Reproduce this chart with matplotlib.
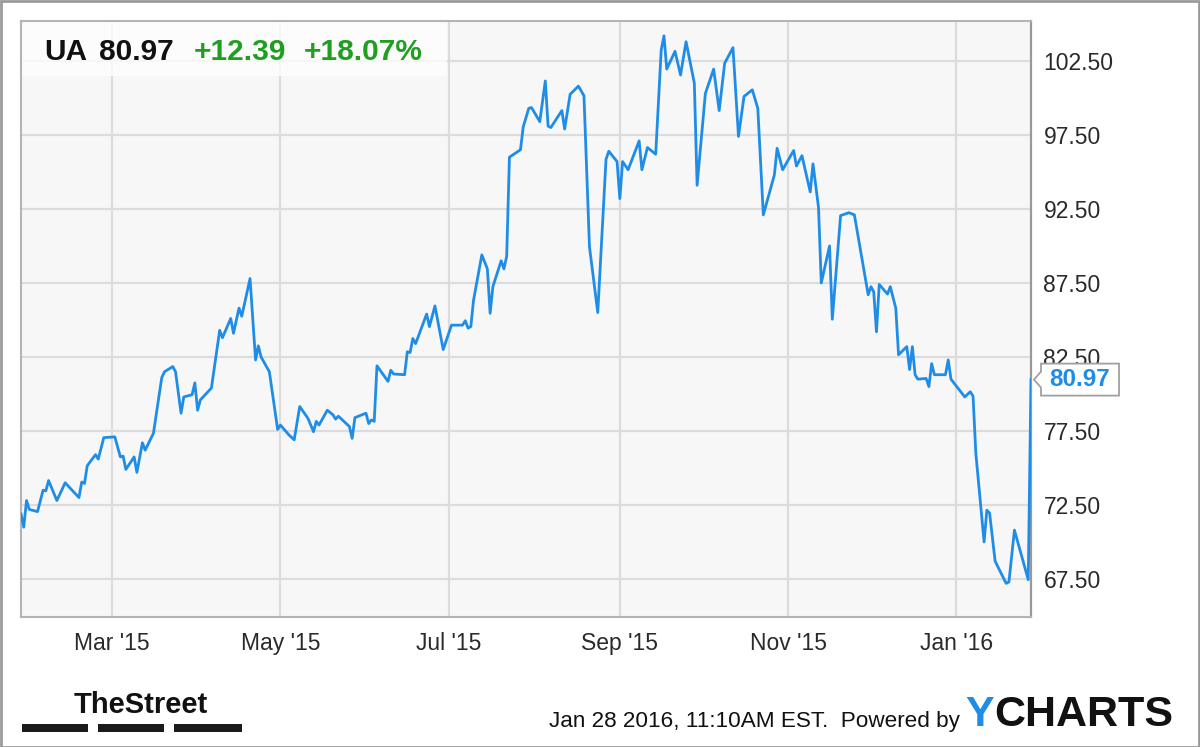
import numpy as np
import pandas as pd
import matplotlib
matplotlib.use("Agg")
import matplotlib.pyplot as plt
from matplotlib.patches import Rectangle, Polygon

plt.rcParams["font.family"] = ["Liberation Sans", "DejaVu Sans"]

# UA daily close (turning points only)
dates = [
    "2015-01-27", "2015-01-28", "2015-01-29", "2015-01-30", "2015-02-02", "2015-02-04",
    "2015-02-05", "2015-02-06", "2015-02-09", "2015-02-12", "2015-02-17", "2015-02-18",
    "2015-02-19", "2015-02-20", "2015-02-23", "2015-02-24", "2015-02-26", "2015-03-02",
    "2015-03-04", "2015-03-05", "2015-03-06", "2015-03-09", "2015-03-10", "2015-03-12",
    "2015-03-13", "2015-03-16", "2015-03-19", "2015-03-20", "2015-03-23", "2015-03-24",
    "2015-03-26", "2015-03-27", "2015-03-30", "2015-03-31", "2015-04-01", "2015-04-02",
    "2015-04-06", "2015-04-09", "2015-04-10", "2015-04-13", "2015-04-14", "2015-04-16",
    "2015-04-17", "2015-04-20", "2015-04-22", "2015-04-23", "2015-04-24", "2015-04-27",
    "2015-04-30", "2015-05-01", "2015-05-04", "2015-05-06", "2015-05-08", "2015-05-11",
    "2015-05-13", "2015-05-14", "2015-05-15", "2015-05-18", "2015-05-20", "2015-05-21",
    "2015-05-22", "2015-05-26", "2015-05-27", "2015-05-28", "2015-06-01", "2015-06-02",
    "2015-06-03", "2015-06-04", "2015-06-05", "2015-06-09", "2015-06-10", "2015-06-11",
    "2015-06-15", "2015-06-16", "2015-06-17", "2015-06-18", "2015-06-19", "2015-06-23",
    "2015-06-24", "2015-06-26", "2015-06-29", "2015-07-02", "2015-07-06", "2015-07-07",
    "2015-07-08", "2015-07-09", "2015-07-10", "2015-07-13", "2015-07-15", "2015-07-16",
    "2015-07-17", "2015-07-20", "2015-07-21", "2015-07-22", "2015-07-23", "2015-07-27",
    "2015-07-28", "2015-07-30", "2015-07-31", "2015-08-03", "2015-08-05", "2015-08-06",
    "2015-08-07", "2015-08-11", "2015-08-12", "2015-08-14", "2015-08-17", "2015-08-19",
    "2015-08-21", "2015-08-24", "2015-08-27", "2015-08-28", "2015-08-31", "2015-09-01",
    "2015-09-02", "2015-09-04", "2015-09-08", "2015-09-09", "2015-09-11", "2015-09-14",
    "2015-09-16", "2015-09-17", "2015-09-18", "2015-09-21", "2015-09-23", "2015-09-25",
    "2015-09-28", "2015-09-29", "2015-10-02", "2015-10-05", "2015-10-07", "2015-10-09",
    "2015-10-12", "2015-10-14", "2015-10-16", "2015-10-19", "2015-10-21", "2015-10-23",
    "2015-10-27", "2015-10-28", "2015-10-30", "2015-11-03", "2015-11-04", "2015-11-06",
    "2015-11-09", "2015-11-10", "2015-11-12", "2015-11-13", "2015-11-16", "2015-11-17",
    "2015-11-20", "2015-11-23", "2015-11-25", "2015-11-30", "2015-12-01", "2015-12-02",
    "2015-12-03", "2015-12-04", "2015-12-07", "2015-12-08", "2015-12-10", "2015-12-11",
    "2015-12-14", "2015-12-15", "2015-12-16", "2015-12-17", "2015-12-18", "2015-12-21",
    "2015-12-22", "2015-12-23", "2015-12-24", "2015-12-28", "2015-12-29", "2015-12-30",
    "2016-01-04", "2016-01-06", "2016-01-07", "2016-01-08", "2016-01-11", "2016-01-12",
    "2016-01-13", "2016-01-15", "2016-01-19", "2016-01-20", "2016-01-22", "2016-01-27",
    "2016-01-28",
]
prices = [
    71.9, 71.0, 72.8, 72.2, 72.05, 73.5,
    73.45, 74.15, 72.8, 74.0, 73.0, 74.05,
    73.95, 75.15, 75.9, 75.6, 77.05, 77.1,
    75.75, 75.8, 74.9, 75.75, 74.7, 76.7,
    76.2, 77.35, 81.1, 81.5, 81.85, 81.5,
    78.7, 79.8, 79.95, 80.75, 78.9, 79.6,
    80.4, 84.3, 83.8, 85.1, 84.1, 85.8,
    85.25, 87.8, 82.3, 83.25, 82.5, 81.5,
    77.6, 77.9, 77.25, 76.9, 79.15, 78.35,
    77.45, 78.15, 77.9, 78.9, 78.6, 78.3,
    78.5, 77.8, 77.0, 78.4, 78.7, 78.0,
    78.25, 78.15, 81.9, 80.85, 81.6, 81.35,
    81.3, 82.85, 82.8, 83.75, 83.4, 85.4,
    84.55, 85.95, 83.0, 84.65, 84.65, 84.95,
    84.45, 84.55, 86.35, 89.4, 88.45, 85.45,
    87.25, 89.0, 88.45, 89.3, 96.0, 96.5,
    98.05, 99.3, 99.35, 98.4, 101.15, 98.1,
    98.0, 99.15, 97.9, 100.25, 100.8, 100.15,
    89.95, 85.5, 95.85, 96.4, 95.7, 93.2,
    95.7, 95.15, 97.1, 95.15, 96.65, 96.2,
    103.25, 104.2, 101.95, 103.15, 101.55, 103.8,
    101.0, 94.1, 100.3, 101.95, 99.15, 102.35,
    103.4, 97.4, 100.1, 100.55, 99.3, 92.1,
    94.8, 96.6, 95.15, 96.45, 95.4, 96.1,
    93.65, 95.55, 92.6, 87.5, 90.0, 85.05,
    92.05, 92.25, 92.1, 86.7, 87.25, 86.9,
    84.2, 87.4, 86.75, 87.25, 85.8, 82.65,
    83.2, 81.65, 83.2, 81.3, 81.0, 81.05,
    80.5, 82.05, 81.3, 81.3, 82.3, 81.0,
    79.8, 80.15, 79.85, 76.0, 70.0, 72.15,
    71.95, 68.7, 67.2, 67.3, 70.8, 67.45,
    80.97,
]
ticker = "UA"
last_price = "80.97"
change = "+12.39"
change_pct = "+18.07%"

yticks = [67.5, 72.5, 77.5, 82.5, 87.5, 92.5, 97.5, 102.5]
xtick_dates = ["2015-03-01", "2015-05-01", "2015-07-01", "2015-09-01", "2015-11-01", "2016-01-01"]
xtick_labels = ["Mar '15", "May '15", "Jul '15", "Sep '15", "Nov '15", "Jan '16"]

BLUE = "#1f8de8"
GREEN = "#1f9e1f"
GRID = "#dcdcdc"
W, H = 1200, 747

x = pd.to_datetime(dates)
fig = plt.figure(figsize=(12, 7.47), dpi=100)
fig.patch.set_facecolor("white")

ax = fig.add_axes([21 / W, 1 - 617 / H, 1010 / W, 596 / H])
ax.set_facecolor("#f7f7f7")
ax.plot(x, prices, color=BLUE, lw=2.0, zorder=3)
ax.set_xlim(x[0], x[-1])
ax.set_ylim(64.93, 105.2)

ax.yaxis.tick_right()
ax.set_yticks(yticks)
ax.set_yticklabels([f"{v:.2f}" for v in yticks])
ax.set_xticks(pd.to_datetime(xtick_dates))
ax.set_xticklabels(xtick_labels)
ax.tick_params(axis="y", length=0, pad=9, labelsize=16.5, labelcolor="#2a2a2a")
ax.tick_params(axis="x", length=0, pad=11, labelsize=16.5, labelcolor="#2a2a2a")
ax.set_axisbelow(True)
ax.grid(True, color=GRID, lw=1.6)
for s in ["left", "top", "bottom"]:
    ax.spines[s].set_color("#b4b4b4")
    ax.spines[s].set_linewidth(1.5)
ax.spines["right"].set_color("#999999")
ax.spines["right"].set_linewidth(1.6)

# header box with quote
ax.add_patch(Rectangle((22 / W, 1 - 76 / H), 425 / W, 54 / H, transform=fig.transFigure,
                       facecolor="white", alpha=0.75, edgecolor="none", zorder=1))
base = 1 - 60 / H
fig.text(44 / W, base, ticker, fontsize=21.5, fontweight="bold", color="#111111", va="baseline")
fig.text(99 / W, base, last_price, fontsize=21.5, fontweight="bold", color="#111111", va="baseline")
fig.text(194 / W, base, change, fontsize=21.5, fontweight="bold", color=GREEN, va="baseline")
fig.text(304 / W, base, change_pct, fontsize=21.5, fontweight="bold", color=GREEN, va="baseline")

# last-price tag on the right axis
px, py = ax.transData.transform((matplotlib.dates.date2num(x[-1]), prices[-1]))
tag = np.array([[px + 3, py], [px + 10, py + 8], [px + 10, py + 16], [px + 88, py + 16],
                [px + 88, py - 16], [px + 10, py - 16], [px + 10, py - 8]])
tag_fig = fig.transFigure.inverted().transform(tag)
fig.patches.append(Polygon(tag_fig, closed=True, facecolor="white", edgecolor="#a0a0a0",
                           lw=1.3, transform=fig.transFigure, zorder=5))
fig.text((px + 49) / W, py / H, last_price, fontsize=17.5, fontweight="bold", color=BLUE,
         ha="center", va="center", zorder=6)

# footer
fig.text(74 / W, 1 - 713 / H, "TheStreet", fontsize=21, fontweight="bold", color="#111111",
         va="baseline")
for x0, x1 in [(22, 88), (98, 164), (174, 242)]:
    fig.patches.append(Rectangle((x0 / W, 1 - 732 / H), (x1 - x0) / W, 8 / H,
                                 transform=fig.transFigure, facecolor="#1a1a1a",
                                 edgecolor="none"))
fig.text(549 / W, 1 - 727 / H, "Jan 28 2016, 11:10AM EST.  Powered by", fontsize=16.2,
         color="#111111", va="baseline")
fig.text(965 / W, 1 - 726 / H, "Y", fontsize=31, fontweight="bold", color=BLUE,
         va="baseline")
fig.text(994 / W, 1 - 726 / H, "CHARTS", fontsize=31, fontweight="bold", color="#111111",
         va="baseline")

# outer frame
fig.patches.append(Rectangle((0.5 / W, 0.5 / H), 1 - 1.5 / W, 1 - 1.5 / H,
                             transform=fig.transFigure, facecolor="none",
                             edgecolor="#9a9a9a", lw=2))

fig.savefig("out.png", dpi=100)
